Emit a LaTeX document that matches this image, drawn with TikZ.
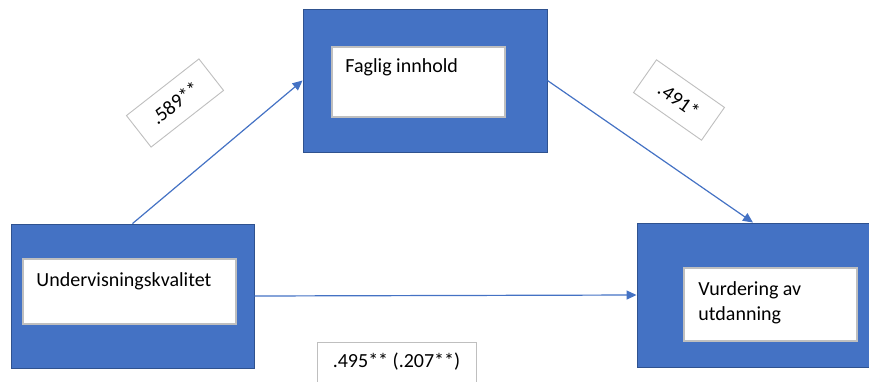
\documentclass[tikz,border=0pt]{standalone}
\usepackage{fontspec}
\setmainfont{Carlito}
\usetikzlibrary{arrows.meta,positioning,calc}
\definecolor{boxfill}{HTML}{4472C4}
\definecolor{boxline}{HTML}{2F528F}
\definecolor{paneline}{HTML}{BFBFBF}
\definecolor{ink}{HTML}{000000}
\tikzset{
  outerbox/.style={draw=boxline, fill=boxfill, line width=0.9pt, inner sep=0pt},
  innerbox/.style={draw=paneline, fill=white, line width=1.5pt, inner sep=0pt},
  boxtext/.style={font=\fontsize{20}{25}\selectfont, text=ink, inner sep=0pt, align=left},
  coeff/.style={draw=paneline, fill=white, line width=0.9pt, inner sep=0pt,
                font=\fontsize{20}{25}\selectfont, text=ink},
  link/.style={-{Triangle[length=10pt,width=9pt]}, draw=boxfill, line width=1.2pt}
}

\begin{document}
\begin{tikzpicture}[x=1pt,y=-1pt]
\useasboundingbox (0,0) rectangle (869,381);

% ---------- variable boxes (outer frame, inner pane)
\node[outerbox, minimum width=244pt, minimum height=143pt] (topOuter)   at (425,80.5) {};
\node[outerbox, minimum width=243pt, minimum height=144pt] (leftOuter)  at (132.5,296) {};
\node[outerbox, minimum width=232pt, minimum height=144pt] (rightOuter) at (753,295) {};

\node[innerbox, minimum width=173pt, minimum height=70pt] (topInner)   at (418.5,82) {};
\node[innerbox, minimum width=213pt, minimum height=65pt] (leftInner)  at (129.5,291.5) {};
\node[innerbox, minimum width=173pt, minimum height=73pt] (rightInner) at (770.5,304.5) {};

\node[boxtext, anchor=base west] (topText)   at ($(topInner.north west)+(14,26)$)   {Faglig innhold};
\node[boxtext, anchor=base west] (leftText)  at ($(leftInner.north west)+(14,28)$)  {Undervisningskvalitet};
% base of a two-line node sits on its last line
\node[boxtext, anchor=base west] (rightText) at ($(rightInner.north west)+(15,53)$) {Vurdering av\\utdanning};

% ---------- paths
\draw[link] (leftOuter.north) -- (topOuter.west);
\draw[link] (topOuter.east) -- (rightOuter.north);
\draw[link] (leftOuter.east) -- (rightOuter.west);

% ---------- coefficients
\node[coeff, rotate=38, minimum width=92pt, minimum height=40pt]  (aPath) at (175,103) {.589**};
\node[coeff, rotate=-35, minimum width=83pt, minimum height=40pt] (bPath) at (679,100) {.491*};
\node[coeff, minimum width=159pt, minimum height=40pt]            (cPath) at (396.5,362) {.495** (.207**)};

\end{tikzpicture}
\end{document}
